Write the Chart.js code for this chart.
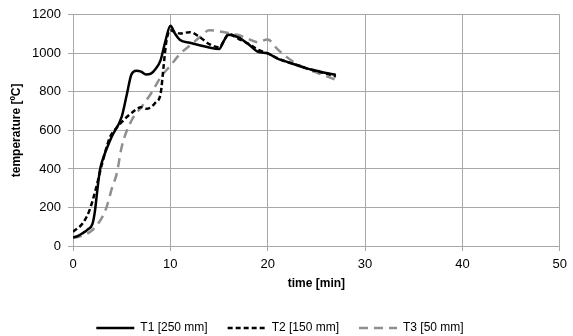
<!DOCTYPE html>
<html>
<head>
<meta charset="utf-8">
<script src="https://cdn.jsdelivr.net/npm/chart.js@4/dist/chart.umd.min.js"></script>
<style>
  html, body { margin: 0; padding: 0; background: #fff; }
  #wrap { width: 573px; height: 336px; }
</style>
</head>
<body>
<div id="wrap"><canvas id="chart"></canvas></div>
<script>
  'use strict';

  // series labels
  var seriesNames = ['T1 [250 mm]', 'T2 [150 mm]', 'T3 [50 mm]'];

  // T1 – 250 mm
  var t1Time = [0, 0.5, 1, 1.5, 2, 2.25, 2.5, 2.75, 3, 3.5, 4, 5, 5.5, 6, 6.5, 7, 7.5, 8, 8.5, 9, 9.5, 10, 10.5, 11, 12, 13, 14, 15, 15.5, 16, 17, 18, 19, 20, 21, 22, 23, 24, 25, 26, 27];
  var t1Temp = [45, 52, 67, 85, 115, 180, 290, 390, 440, 510, 570, 670, 780, 890, 910, 905, 890, 895, 920, 965, 1065, 1143, 1100, 1069, 1055, 1042, 1030, 1022, 1065, 1097, 1083, 1048, 1008, 1000, 972, 956, 938, 922, 910, 898, 888];

  // T2 – 150 mm
  var t2Time = [0, 1, 1.7, 2.4, 3, 3.8, 4.5, 5, 6, 7, 7.5, 8, 8.5, 9, 9.3, 9.6, 10, 10.5, 11, 12, 13, 14, 15, 16, 17, 18, 19, 20, 21, 22, 23, 24, 25, 26, 27];
  var t2Temp = [74, 118, 186, 307, 430, 565, 615, 643, 690, 720, 712, 720, 746, 790, 930, 1065, 1120, 1110, 1103, 1110, 1085, 1048, 1031, 1100, 1075, 1050, 1019, 1000, 975, 955, 940, 922, 908, 895, 880];

  // T3 – 50 mm
  var t3Time = [0, 1, 2, 3, 3.5, 4, 4.5, 5, 6, 7, 8, 9, 10, 11, 12, 13, 14, 15, 16, 17, 18, 19, 20, 21, 22, 23, 24, 25, 26, 27];
  var t3Temp = [41, 55, 83, 150, 210, 300, 377, 514, 650, 720, 790, 876, 936, 997, 1040, 1083, 1120, 1114, 1105, 1095, 1075, 1058, 1072, 1022, 979, 945, 920, 900, 882, 862];

  // axis ranges
  var xTicks = [0, 10, 20, 30, 40, 50];
  var yTicks = [0, 200, 400, 600, 800, 1000, 1200];

  function points(xs, ys) {
    return xs.map(function(x, i) { return { x: x, y: ys[i] }; });
  }

  var gridColor = '#a8a8a8';
  var fontFamily = 'Liberation Sans, Arial, sans-serif';

  // legend entries drawn as short line samples with the dataset's own dash
  function lineLegendLabels(chart) {
    var items = Chart.defaults.plugins.legend.labels.generateLabels(chart);
    items.forEach(function(item) {
      var ds = chart.data.datasets[item.datasetIndex];
      item.pointStyle = 'line';
      item.strokeStyle = ds.borderColor;
      item.lineWidth = ds.borderWidth;
      item.lineDash = ds.borderDash || [];
    });
    return items;
  }

  new Chart(document.getElementById('chart'), {
    type: 'line',
    data: {
      datasets: [{
        label: seriesNames[0],
        data: points(t1Time, t1Temp),
        borderColor: '#000',
        backgroundColor: 'rgba(0,0,0,0)',
        borderWidth: 2.5
      }, {
        label: seriesNames[1],
        data: points(t2Time, t2Temp),
        borderColor: '#000',
        backgroundColor: 'rgba(0,0,0,0)',
        borderWidth: 2.5,
        borderDash: [5, 3]
      }, {
        label: seriesNames[2],
        data: points(t3Time, t3Temp),
        borderColor: '#8f8f8f',
        backgroundColor: 'rgba(0,0,0,0)',
        borderWidth: 2.5,
        borderDash: [9, 6]
      }]
    },
    options: {
      responsive: true,
      maintainAspectRatio: false,
      animation: false,
      elements: {
        point: { radius: 0 },
        line: { tension: 0.4, cubicInterpolationMode: 'monotone' }
      },
      layout: { padding: { top: 9, right: 13, left: 0, bottom: -8 } },
      plugins: {
        tooltip: { enabled: false },
        legend: {
          position: 'bottom',
          labels: {
            usePointStyle: true,
            pointStyleWidth: 38,
            generateLabels: lineLegendLabels,
            color: '#000',
            padding: 20,
            font: { family: fontFamily, size: 12 }
          }
        }
      },
      scales: {
        x: {
          type: 'linear',
          min: xTicks[0],
          max: xTicks[xTicks.length - 1],
          afterBuildTicks: function(axis) {
            axis.ticks = xTicks.map(function(v) { return { value: v }; });
          },
          afterFit: function(axis) { axis.height = 56; },
          border: { color: gridColor },
          grid: { color: gridColor, tickLength: 5 },
          ticks: {
            color: '#000',
            maxRotation: 0,
            padding: 6,
            callback: function(v) { return String(v); },
            font: { family: fontFamily, size: 13 }
          },
          title: {
            display: true,
            text: 'time [min]',
            color: '#000',
            padding: { top: 4, bottom: 11 },
            font: { family: fontFamily, size: 12, weight: 'bold' }
          }
        },
        y: {
          min: yTicks[0],
          max: yTicks[yTicks.length - 1],
          afterBuildTicks: function(axis) {
            axis.ticks = yTicks.map(function(v) { return { value: v }; });
          },
          afterFit: function(axis) { axis.width = 73; },
          border: { color: gridColor },
          grid: { color: gridColor, tickLength: 5 },
          ticks: {
            color: '#000',
            padding: 7,
            callback: function(v) { return String(v); },
            font: { family: fontFamily, size: 13 }
          },
          title: {
            display: true,
            text: 'temperature [ºC]',
            color: '#000',
            padding: { top: 9, bottom: 0 },
            font: { family: fontFamily, size: 12, weight: 'bold' }
          }
        }
      }
    }
  });
</script>
</body>
</html>
